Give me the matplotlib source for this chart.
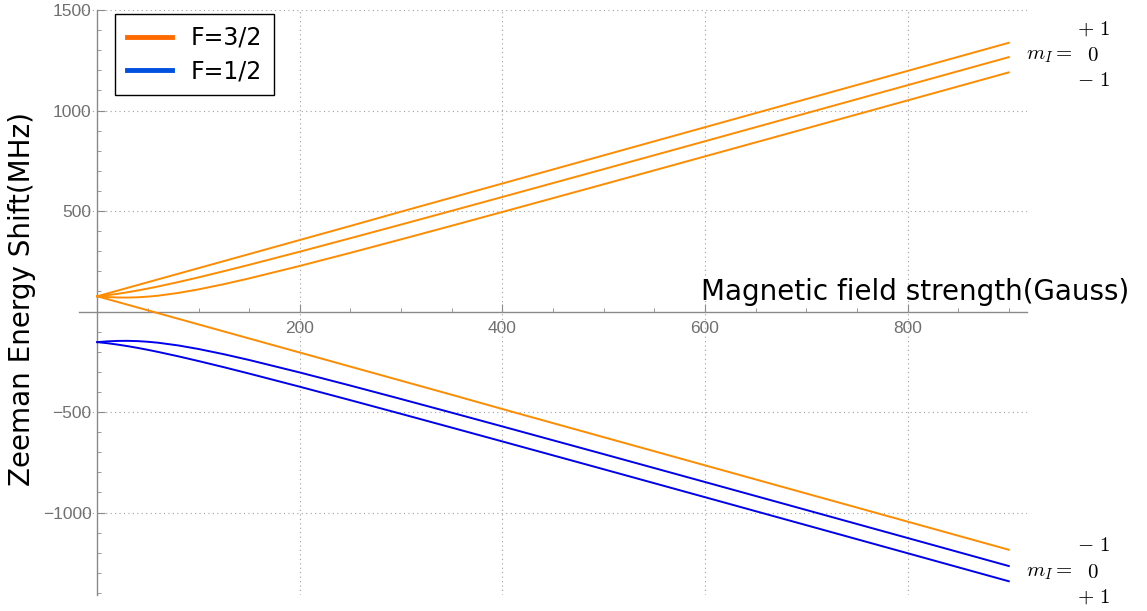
import matplotlib
matplotlib.use('Agg')
import matplotlib.pyplot as plt
from matplotlib.lines import Line2D
from matplotlib.ticker import MultipleLocator, FixedLocator

plt.rcParams['mathtext.fontset'] = 'cm'

# magnetic field (Gauss)
field = [0, 10, 20, 30, 40, 50, 60, 80, 100, 125, 150, 200, 250, 300,
         350, 400, 500, 600, 700, 800, 900]

# F=3/2 branch (MHz)
f32_p1 = [76, 90, 104, 118, 132, 146, 160, 188, 216, 251, 286, 356, 426, 497,
          567, 637, 777, 917, 1057, 1197, 1337]
f32_0 = [76, 81.5, 88.2, 96.1, 104.9, 114.5, 124.7, 146.7, 170.1, 200.8, 232.5,
         297.9, 365.0, 432.8, 501.3, 570.1, 708.4, 847.3, 986.6, 1126.0, 1265.6]
f32_m1 = [76, 72.2, 70.0, 69.6, 71.0, 74.2, 79.0, 92.6, 110.3, 136.3, 165.0,
          227.0, 292.3, 359.2, 427.0, 495.4, 633.2, 771.9, 910.9, 1050.3, 1189.8]
f32_low = [76, 62, 48, 34, 20, 6, -8, -36, -64, -99, -134, -204, -274, -344,
           -414, -485, -625, -765, -905, -1045, -1185]

# F=1/2 branch (MHz)
f12_a = [-152.1, -148.3, -146.1, -145.7, -147.1, -150.3, -155.0, -168.6, -186.3,
         -212.3, -241.0, -303.1, -368.3, -435.2, -503.1, -571.5, -709.3, -847.9,
         -987.0, -1126.3, -1265.9]
f12_b = [-152.1, -157.5, -164.3, -172.1, -180.9, -190.5, -200.8, -222.7, -246.2,
         -276.8, -308.6, -374.0, -441.0, -508.9, -577.4, -646.2, -784.5, -923.4,
         -1062.6, -1202.1, -1341.7]

orange = '#FF8C00'
blue = '#0000EE'

fig = plt.figure(figsize=(11.47, 6.11), dpi=100)
ax = fig.add_axes([0.0689, 0.0262, 0.8265, 0.9574])

for ys in [f32_p1, f32_0, f32_m1, f32_low]:
    ax.plot(field, ys, color=orange, lw=1.4, zorder=3)
for ys in [f12_a, f12_b]:
    ax.plot(field, ys, color=blue, lw=1.4, zorder=3)

ax.set_xlim(-18, 918)
ax.set_ylim(-1410, 1500)

# axes through the origin, Mathematica style
for s in ['top', 'right']:
    ax.spines[s].set_visible(False)
ax.spines['left'].set_position(('data', 0))
ax.spines['bottom'].set_position(('data', 0))
for s in ['left', 'bottom']:
    ax.spines[s].set_color('#8a8a8a')
    ax.spines[s].set_linewidth(1.0)

ax.xaxis.set_major_locator(FixedLocator([200, 400, 600, 800]))
ax.yaxis.set_major_locator(FixedLocator([-1000, -500, 500, 1000, 1500]))
ax.xaxis.set_minor_locator(MultipleLocator(50))
ax.yaxis.set_minor_locator(MultipleLocator(100))
ax.tick_params(which='both', direction='in', color='#8a8a8a', labelcolor='#707070',
               labelsize=12.5)
ax.tick_params(which='major', length=6)
ax.tick_params(which='minor', length=3)
ax.tick_params(axis='x', pad=7)
ax.tick_params(axis='y', pad=4)
for lab in ax.get_xticklabels() + ax.get_yticklabels():
    lab.set_family('Liberation Sans')
ax.grid(True, which='major', linestyle=(0, (1, 3)), color='#a0a0a0', lw=0.8)

ax.text(1019, 55, 'Magnetic field strength(Gauss)', fontsize=20, ha='right',
        va='baseline', clip_on=False)
fig.text(0.019, 0.51, 'Zeeman Energy Shift(MHz)', fontsize=20, rotation=90,
         ha='center', va='center')

handles = [Line2D([], [], color='#FF6A00', lw=3.5),
           Line2D([], [], color='#0050E0', lw=3.5)]
leg = ax.legend(handles, ['F=3/2', 'F=1/2'], loc='upper left',
                bbox_to_anchor=(115 / 1147, 1 - 14 / 611),
                bbox_transform=fig.transFigure, fontsize=17, fancybox=False,
                edgecolor='black', framealpha=1, borderaxespad=0,
                handlelength=1.9, borderpad=0.5, labelspacing=0.4)
leg.get_frame().set_linewidth(1.0)

# m_I labels on the right
fs = 15
fig.text(0.953, 0.954, r'$+\ 1$', fontsize=fs, ha='center', va='center')
fig.text(0.935, 0.910, r'$m_I =$', fontsize=fs, ha='right', va='center')
fig.text(0.953, 0.910, r'$0$', fontsize=fs, ha='center', va='center')
fig.text(0.953, 0.869, r'$-\ 1$', fontsize=fs, ha='center', va='center')
fig.text(0.953, 0.108, r'$-\ 1$', fontsize=fs, ha='center', va='center')
fig.text(0.935, 0.064, r'$m_I =$', fontsize=fs, ha='right', va='center')
fig.text(0.953, 0.064, r'$0$', fontsize=fs, ha='center', va='center')
fig.text(0.953, 0.023, r'$+\ 1$', fontsize=fs, ha='center', va='center')

fig.savefig('out.png', dpi=100)
